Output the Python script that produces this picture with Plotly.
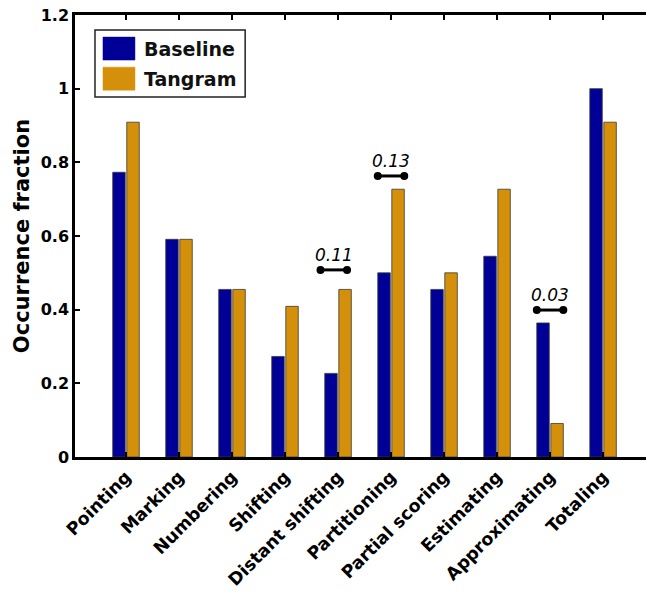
import plotly.graph_objects as go

categories = ["Pointing", "Marking", "Numbering", "Shifting", "Distant shifting",
              "Partitioning", "Partial scoring", "Estimating", "Approximating", "Totaling"]
baseline = [0.773, 0.591, 0.455, 0.273, 0.227, 0.5, 0.455, 0.545, 0.364, 1.0]
tangram = [0.909, 0.591, 0.455, 0.409, 0.455, 0.727, 0.5, 0.727, 0.091, 0.909]

# significance markers: category, level, label
sig_categories = ["Distant shifting", "Partitioning", "Approximating"]
sig_levels = [0.508, 0.763, 0.399]
sig_labels = ["0.11", "0.13", "0.03"]
sig_shift = [-0.08, 0.0, 0.0]

ytick_vals = [0, 0.2, 0.4, 0.6, 0.8, 1.0, 1.2]
ytick_text = ["0", "0.2", "0.4", "0.6", "0.8", "1", "1.2"]

NAVY = "#000096"
GOLD = "#D4900A"
EDGE = "#3a3a3a"

xi = list(range(len(categories)))

fig = go.Figure()
fig.add_trace(go.Bar(x=xi, y=baseline, name="Baseline", marker_color=NAVY,
                     marker_line=dict(color=EDGE, width=0.8)))
fig.add_trace(go.Bar(x=xi, y=tangram, name="Tangram", marker_color=GOLD,
                     marker_line=dict(color=EDGE, width=0.8)))

for cat, lvl, lab, sh in zip(sig_categories, sig_levels, sig_labels, sig_shift):
    c = categories.index(cat) + sh
    fig.add_trace(go.Scatter(x=[c - 0.25, c + 0.25], y=[lvl, lvl], mode="lines+markers",
                             line=dict(color="black", width=3),
                             marker=dict(color="black", size=8),
                             showlegend=False, hoverinfo="skip"))
    fig.add_annotation(x=c, y=lvl, text=lab, showarrow=False, yshift=15,
                       font=dict(family="DejaVu Sans", size=17, color="black", style="italic"))

# custom legend (large swatches)
fig.add_shape(type="rect", xref="paper", yref="paper", x0=0.035, x1=0.298, y0=0.8145, y1=0.966,
              line=dict(color="#222", width=1.5), fillcolor="white", layer="above")
fig.add_shape(type="rect", xref="paper", yref="paper", x0=0.049, x1=0.105, y0=0.898, y1=0.950,
              line=dict(color=NAVY, width=0.5), fillcolor=NAVY, layer="above")
fig.add_shape(type="rect", xref="paper", yref="paper", x0=0.049, x1=0.105, y0=0.830, y1=0.882,
              line=dict(color=GOLD, width=0.5), fillcolor=GOLD, layer="above")
for txt, yy in [("Baseline", 0.924), ("Tangram", 0.856)]:
    fig.add_annotation(xref="paper", yref="paper", x=0.117, y=yy, text=txt, showarrow=False,
                       xanchor="left", yanchor="middle",
                       font=dict(family="DejaVu Sans", size=19, color="#111", weight="bold"))

fig.update_layout(
    width=646, height=592,
    margin=dict(l=75, r=0, t=15, b=135),
    plot_bgcolor="white", paper_bgcolor="white",
    barmode="group", bargap=0.47, bargroupgap=0.11,
    showlegend=False,
    font=dict(family="DejaVu Sans", color="black"),
)
fig.update_xaxes(
    range=[-0.962, 9.81], tickmode="array", tickvals=xi, ticktext=categories,
    tickangle=-45, ticks="inside", ticklen=5, tickwidth=2, tickcolor="black",
    showline=True, linecolor="black", linewidth=2.5, mirror="ticks",
    showgrid=False, zeroline=False, automargin=False,
    tickfont=dict(family="DejaVu Sans", size=17.5, color="black", weight="bold"),
)
fig.update_yaxes(
    range=[0, 1.2], tickmode="array", tickvals=ytick_vals, ticktext=ytick_text,
    ticks="inside", ticklen=5, tickwidth=2, tickcolor="black",
    showline=True, linecolor="black", linewidth=2.5, mirror=False,
    showgrid=False, zeroline=False, automargin=False,
    tickfont=dict(family="DejaVu Sans", size=16, color="black", weight="bold"),
    title=dict(text="Occurrence fraction", standoff=6,
               font=dict(family="DejaVu Sans", size=21, color="black", weight="bold")),
)

fig.write_html(
    "out.html",
    config={"displayModeBar": False},
    post_script="document.body.style.margin='0';document.body.style.overflow='hidden';",
)
